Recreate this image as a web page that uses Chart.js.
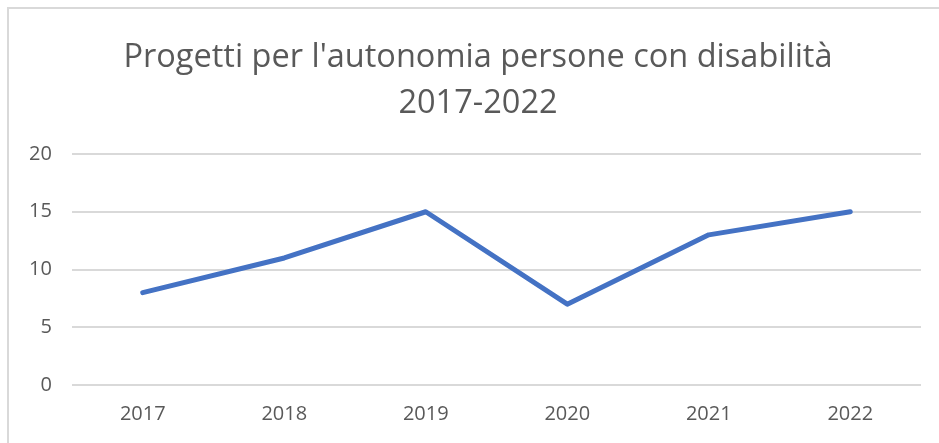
<!DOCTYPE html>
<html>
<head>
<meta charset="utf-8">
<script src="https://cdn.jsdelivr.net/npm/chart.js@4/dist/chart.umd.min.js"></script>
<style>
  html, body { margin: 0; padding: 0; background: #fff; }
  body { width: 939px; height: 443px; overflow: hidden; position: relative; }
  #frame {
    position: absolute; left: 7px; top: 7px; right: 0; bottom: 0;
    border-top: 2px solid #d9d9d9; border-left: 2px solid #d9d9d9;
  }
  #wrap { position: absolute; left: 9px; top: 9px; width: 930px; height: 434px; }
</style>
</head>
<body>
<div id="frame"></div>
<div id="wrap"><canvas id="chart"></canvas></div>
<script>
const years = ['2017', '2018', '2019', '2020', '2021', '2022'];
const progetti = [8, 11, 15, 7, 13, 15];
const titleLines = ["Progetti per l'autonomia persone con disabilità", '2017-2022'];

const grey = '#595959';

new Chart(document.getElementById('chart'), {
    type: 'line',
    data: {
        labels: years,
        datasets: [{
            label: 'Progetti',
            data: progetti,
            borderColor: '#4472C4',
            borderWidth: 5,
            pointRadius: 0,
            tension: 0,
            borderCapStyle: 'round',
            borderJoinStyle: 'round',
            fill: false
        }]
    },
    options: {
        responsive: true,
        maintainAspectRatio: false,
        animation: false,
        layout: { padding: { left: 26, right: 18, top: 26, bottom: 0 } },
        plugins: {
            legend: { display: false },
            tooltip: { enabled: false },
            title: {
                display: true,
                text: titleLines,
                color: grey,
                font: { family: 'Open Sans', size: 32.5, weight: 'normal', lineHeight: 1.4 },
                padding: { top: 0, bottom: 28 }
            }
        },
        scales: {
            x: {
                offset: true,
                grid: { display: false, drawTicks: false },
                border: { display: false },
                ticks: { color: grey, font: { family: 'Open Sans', size: 20 }, padding: 17 }
            },
            y: {
                min: 0,
                max: 20,
                // labels sit left of the narrow axis box, like the original
                afterFit: (scale) => { scale.width = 37; },
                ticks: {
                    stepSize: 5, color: grey, font: { family: 'Open Sans', size: 20 },
                    mirror: true, crossAlign: 'far', padding: -43
                },
                grid: { color: '#d9d9d9', lineWidth: 2, drawTicks: false },
                border: { display: false }
            }
        }
    }
});
</script>
</body>
</html>
